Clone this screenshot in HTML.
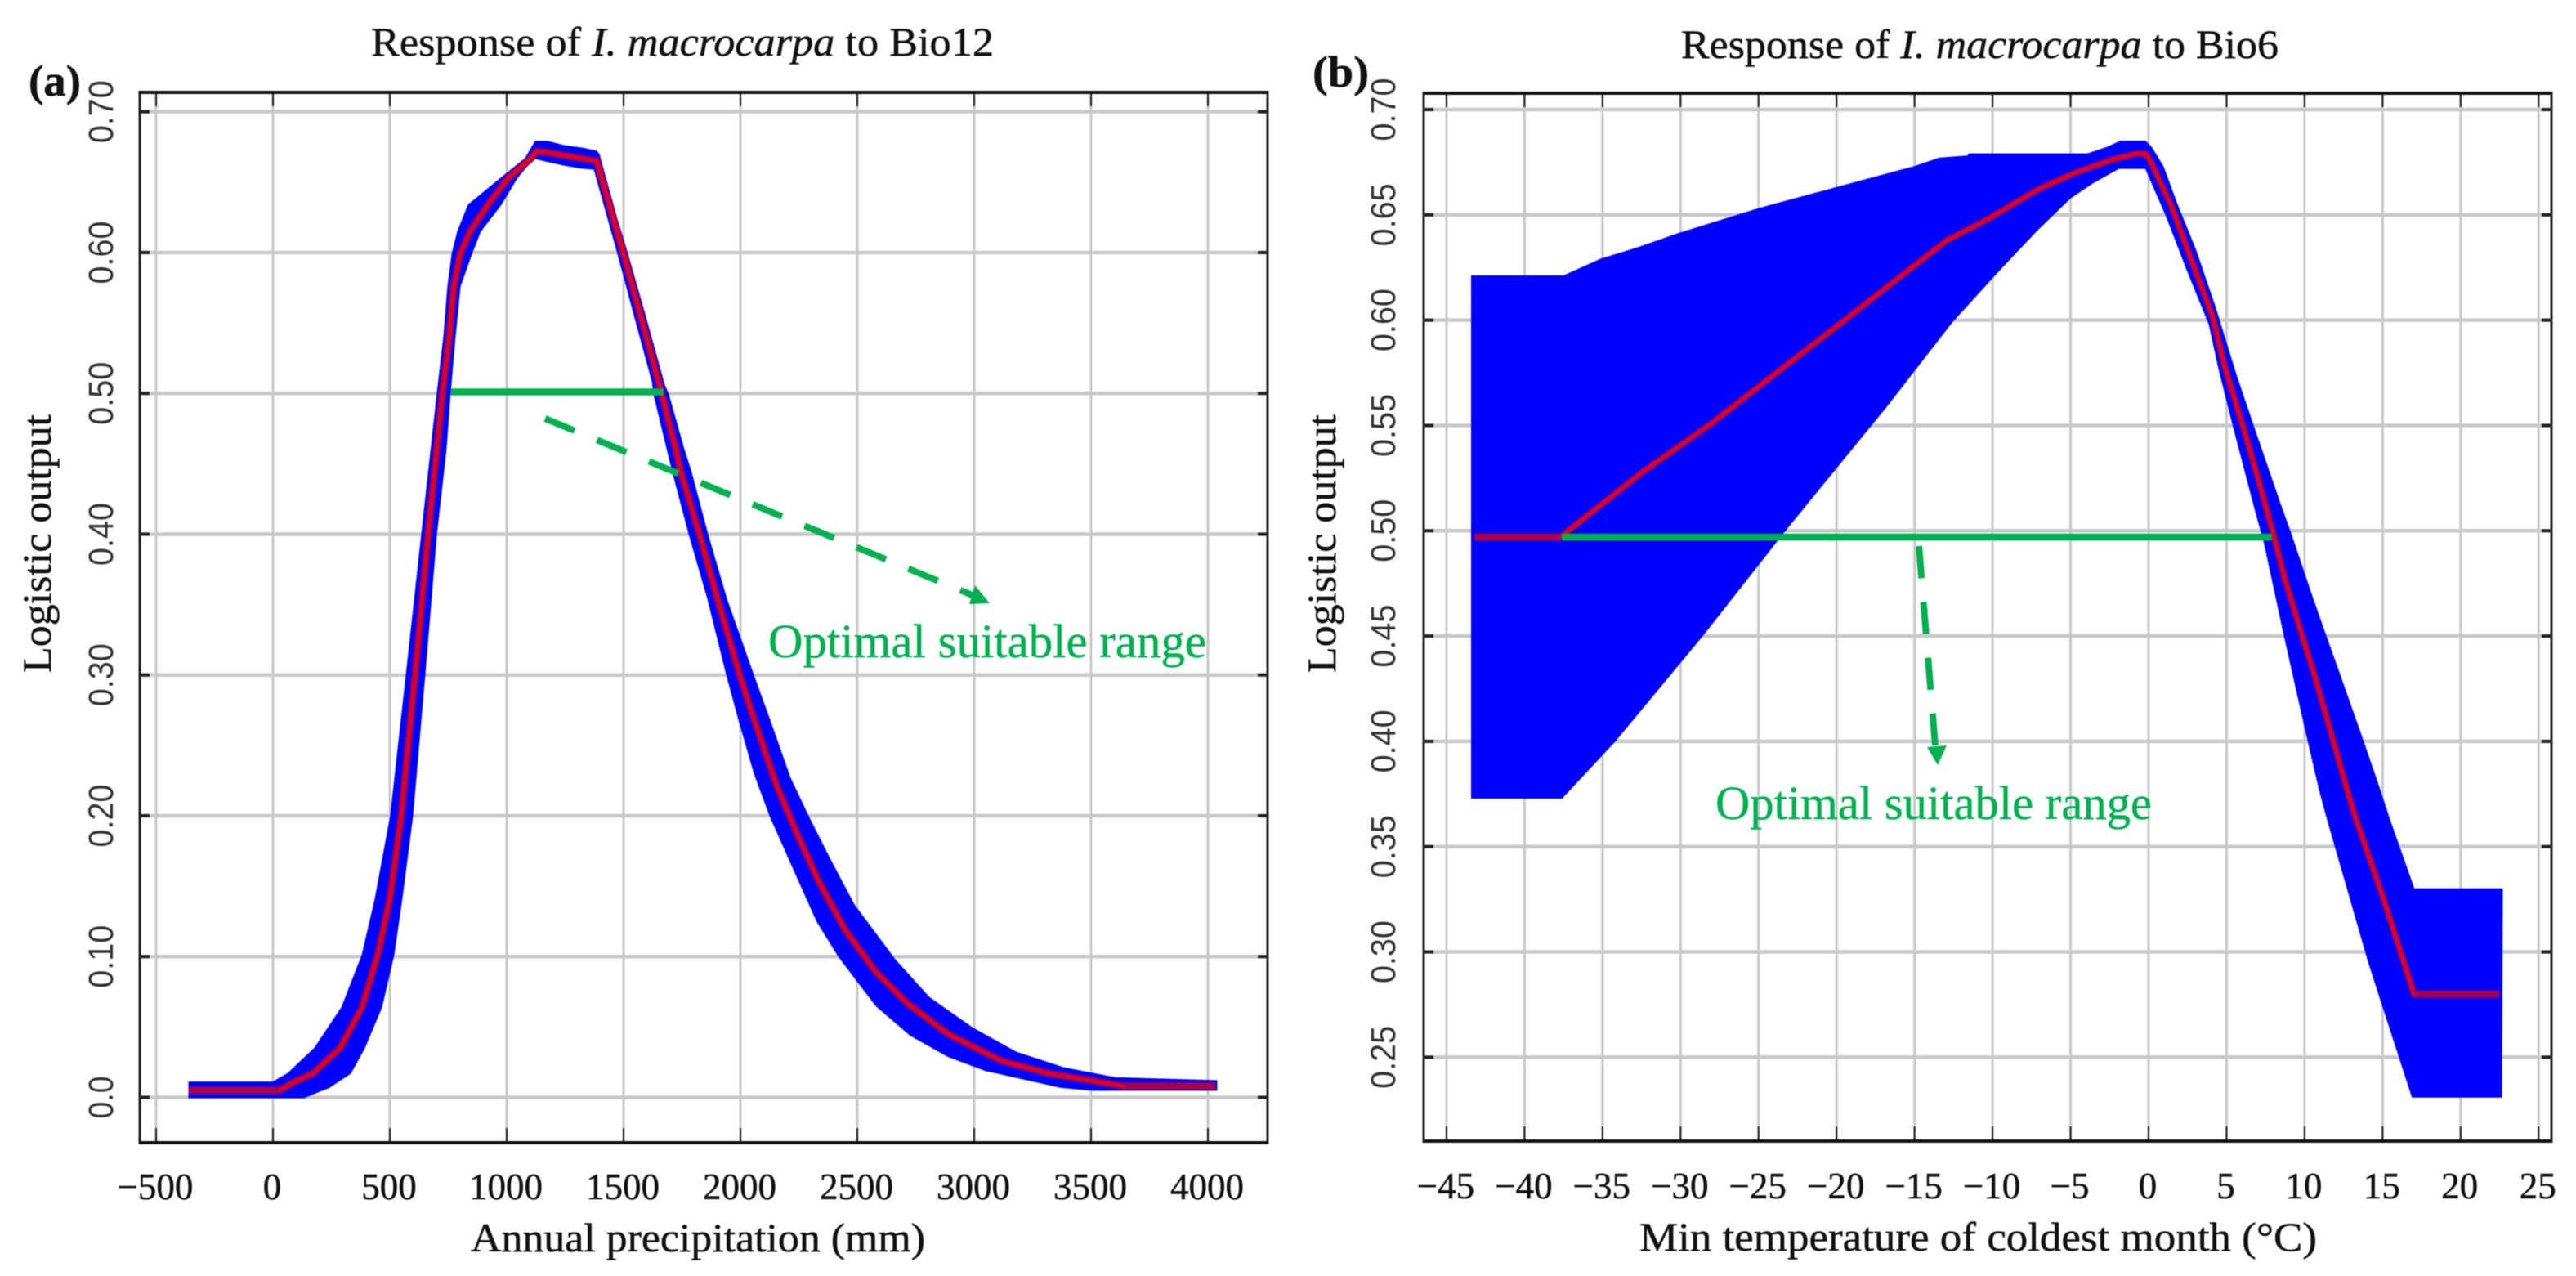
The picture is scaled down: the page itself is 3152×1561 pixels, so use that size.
<!DOCTYPE html>
<html lang="en">
<head>
<meta charset="utf-8">
<title>Response curves of I. macrocarpa</title>
<style>
html,body{margin:0;padding:0;background:#fff;}
svg{display:block;filter:blur(0.6px);}
text{font-family:"Liberation Serif",serif;fill:#111;stroke:#111;stroke-width:0.5px;}
.sans{font-family:"Liberation Sans",sans-serif;fill:#333;stroke:none;}
.green{fill:#00B050;stroke:#00B050;}
</style>
</head>
<body>
<svg id="figure" xmlns="http://www.w3.org/2000/svg" width="3152" height="1561" viewBox="0 0 3152 1561">
  <rect x="0" y="0" width="3152" height="1561" fill="#fff"/>
  <g id="panel-a"></g>
  <g id="panel-b"></g>

  <text x="35" y="117" font-size="54" font-weight="bold" textLength="64" lengthAdjust="spacingAndGlyphs">(a)</text>
  <text x="1606" y="106" font-size="54" font-weight="bold" textLength="69" lengthAdjust="spacingAndGlyphs">(b)</text>

  <text x="454" y="68" font-size="50" textLength="762" lengthAdjust="spacingAndGlyphs">Response of <tspan font-style="italic">I. macrocarpa</tspan> to Bio12</text>
  <text x="2057" y="71" font-size="50" textLength="731" lengthAdjust="spacingAndGlyphs">Response of <tspan font-style="italic">I. macrocarpa</tspan> to Bio6</text>

  <text x="576" y="1531" font-size="50" textLength="556" lengthAdjust="spacingAndGlyphs">Annual precipitation (mm)</text>
  <text x="2006" y="1530" font-size="50" textLength="829" lengthAdjust="spacingAndGlyphs">Min temperature of coldest month (°C)</text>

  <text transform="translate(62 823) rotate(-90)" font-size="50" textLength="316" lengthAdjust="spacingAndGlyphs">Logistic output</text>
  <text transform="translate(1634 823) rotate(-90)" font-size="50" textLength="316" lengthAdjust="spacingAndGlyphs">Logistic output</text>

  <g>
    <line x1="667" y1="512" x2="1192" y2="729" stroke="#00B050" stroke-width="8" stroke-dasharray="39 29.7"/>
    <polygon points="1193,716 1211,738 1186,739" fill="#00B050"/>
    <text class="green" x="940" y="804" font-size="58" textLength="536" lengthAdjust="spacingAndGlyphs">Optimal suitable range</text>
  </g>
  <g>
    <line x1="2348" y1="668" x2="2369" y2="925" stroke="#00B050" stroke-width="8" stroke-dasharray="39.5 29"/>
    <polygon points="2358,914 2382,912 2371,936" fill="#00B050"/>
    <text class="green" x="2099" y="1002" font-size="58" textLength="534" lengthAdjust="spacingAndGlyphs">Optimal suitable range</text>
  </g>
</svg>

<script>
// Panel (a) tick values
const aXTicks = [-500, 0, 500, 1000, 1500, 2000, 2500, 3000, 3500, 4000];
const aYTicks = [0, 0.1, 0.2, 0.3, 0.4, 0.5, 0.6, 0.7];
const aYLabels = ['0.0', '0.10', '0.20', '0.30', '0.40', '0.50', '0.60', '0.70'];

// Panel (a) mean response
const aMeanX = [-360, 28, 91, 171, 287, 381, 448, 500, 549, 608, 664, 726, 755, 773, 801, 843, 920, 1007, 1105, 1129, 1175, 1245, 1315, 1385, 1497, 1570, 1654, 1724, 1745, 1825, 1902, 1997, 2059, 2154, 2248, 2339, 2448, 2580, 2713, 2888, 3115, 3318, 3640, 4032];
const aMeanY = [0.005, 0.005, 0.011, 0.017, 0.035, 0.064, 0.101, 0.141, 0.2, 0.3, 0.4, 0.501, 0.541, 0.576, 0.599, 0.615, 0.634, 0.653, 0.667, 0.672, 0.671, 0.669, 0.667, 0.665, 0.601, 0.557, 0.506, 0.46, 0.444, 0.4, 0.354, 0.3, 0.268, 0.222, 0.185, 0.152, 0.119, 0.089, 0.067, 0.045, 0.026, 0.017, 0.008, 0.008];

// Panel (a) upper edge of the spread
const aUpperX = [-360, 0, 63, 178, 294, 381, 437, 503, 570, 636, 703, 731, 748, 766, 790, 836, 976, 1080, 1122, 1175, 1245, 1332, 1385, 1395, 1472, 1514, 1590, 1675, 1692, 1759, 1790, 1860, 1941, 2056, 2126, 2213, 2290, 2381, 2486, 2661, 2808, 2997, 3182, 3385, 3605, 4038];
const aUpperY = [0.011, 0.011, 0.017, 0.035, 0.064, 0.101, 0.141, 0.2, 0.3, 0.4, 0.501, 0.541, 0.576, 0.599, 0.615, 0.634, 0.653, 0.667, 0.679, 0.679, 0.676, 0.674, 0.672, 0.67, 0.624, 0.601, 0.557, 0.506, 0.4995, 0.46, 0.444, 0.4, 0.354, 0.3, 0.268, 0.227, 0.2, 0.17, 0.137, 0.098, 0.071, 0.049, 0.032, 0.021, 0.014, 0.012];

// Panel (a) lower edge of the spread
const aLowerX = [-360, 133, 241, 332, 392, 465, 517, 552, 598, 650, 700, 741, 759, 780, 801, 850, 888, 976, 1045, 1115, 1164, 1245, 1315, 1374, 1472, 1543, 1623, 1629, 1710, 1780, 1860, 1941, 1993, 2059, 2126, 2206, 2327, 2420, 2580, 2727, 2888, 3049, 3371, 3503, 4038];
const aLowerY = [-0.0003, -0.0003, 0.007, 0.017, 0.035, 0.064, 0.101, 0.141, 0.2, 0.3, 0.4, 0.46, 0.501, 0.541, 0.576, 0.599, 0.615, 0.634, 0.653, 0.667, 0.665, 0.662, 0.66, 0.659, 0.601, 0.557, 0.508, 0.4995, 0.444, 0.4, 0.354, 0.3, 0.268, 0.23, 0.2, 0.17, 0.125, 0.1, 0.065, 0.044, 0.029, 0.019, 0.007, 0.005, 0.005];

// Panel (a) optimal range
const aRangeX = [762, 1671];
const aRangeY = [0.501, 0.501];

// Panel (b) tick values
const bXTicks = [-45, -40, -35, -30, -25, -20, -15, -10, -5, 0, 5, 10, 15, 20, 25];
const bYTicks = [0.25, 0.3, 0.35, 0.4, 0.45, 0.5, 0.55, 0.6, 0.65, 0.7];
const bYLabels = ['0.25', '0.30', '0.35', '0.40', '0.45', '0.50', '0.55', '0.60', '0.65', '0.70'];

// Panel (b) mean response
const bMeanX = [-43.2, -37.7, -32.6, -28.2, -26.8, -23.5, -20, -16.9, -12.9, -10.3, -7.1, -4.7, -2.4, -0.84, -0.2, 0.16, 1.47, 2.83, 4.09, 4.92, 6.08, 6.97, 7.91, 8.7, 9.85, 10.53, 11.58, 12.73, 13.25, 15.03, 17.02, 22.47];
const bMeanY = [0.497, 0.497, 0.527, 0.55, 0.558, 0.577, 0.597, 0.615, 0.638, 0.648, 0.662, 0.67, 0.676, 0.679, 0.679, 0.675, 0.654, 0.627, 0.602, 0.577, 0.549, 0.526, 0.501, 0.478, 0.45, 0.434, 0.407, 0.377, 0.364, 0.326, 0.28, 0.28];

// Panel (b) upper edge of the spread
const bUpperX = [-43.4, -37.5, -35.1, -32.9, -30.2, -25, -20, -15, -13.4, -11.6, -11.5, -3.9, -2.7, -1.8, -0.2, 0.2, 0.94, 1.78, 3.04, 4.24, 5.66, 6.76, 8.43, 9.06, 10.38, 11.37, 12.15, 13.67, 14.83, 15.4, 17.02, 22.68];
const bUpperY = [0.621, 0.621, 0.629, 0.634, 0.641, 0.653, 0.663, 0.673, 0.677, 0.678, 0.679, 0.679, 0.682, 0.685, 0.685, 0.682, 0.673, 0.656, 0.633, 0.607, 0.573, 0.549, 0.513, 0.5, 0.471, 0.45, 0.434, 0.402, 0.377, 0.364, 0.33, 0.33];

// Panel (b) lower edge of the spread
const bLowerX = [-43.4, -37.6, -34.2, -28.6, -23.3, -17.9, -16.9, -12.6, -9.4, -7.1, -5, -3.6, -1.9, -0.2, 1.1, 2.51, 3.88, 4.5, 5.45, 6.86, 7.39, 8.7, 10.16, 10.95, 11.42, 14.1, 16.9, 22.63];
const bLowerY = [0.373, 0.373, 0.4, 0.45, 0.5, 0.549, 0.558, 0.599, 0.625, 0.643, 0.658, 0.665, 0.672, 0.672, 0.65, 0.623, 0.598, 0.577, 0.549, 0.509, 0.495, 0.45, 0.402, 0.377, 0.364, 0.295, 0.231, 0.231];

// Panel (b) optimal range
const bRangeX = [-37.6, 7.9];
const bRangeY = [0.497, 0.497];

const SVGNS = 'http://www.w3.org/2000/svg';

function make(parent, tag, attrs) {
  const node = document.createElementNS(SVGNS, tag);
  for (const key in attrs) node.setAttribute(key, attrs[key]);
  parent.appendChild(node);
  return node;
}

function tickLabel(v) {
  return (v < 0 ? '\u2212' + Math.abs(v) : String(v));
}

function pointString(xs, ys, sx, sy) {
  return xs.map(function (v, i) { return sx(v).toFixed(1) + ',' + sy(ys[i]).toFixed(1); }).join(' ');
}

function drawPanel(root, frame, sx, sy, series) {
  const left = frame.left, right = frame.right, top = frame.top, bottom = frame.bottom;

  series.yTicks.forEach(function (v) {
    const el = make(root, 'line', {x1: left, x2: right, y1: sy(v), y2: sy(v), stroke: '#c8c8c8', 'stroke-width': 4.5});
    
    
  });
  series.xTicks.forEach(function (v) {
    const el = make(root, 'line', {x1: sx(v), x2: sx(v), y1: top, y2: bottom, stroke: '#c8c8c8', 'stroke-width': 3});
    
    
  });

  const outline = series.upperX.map(function (v, i) { return sx(v).toFixed(1) + ',' + sy(series.upperY[i]).toFixed(1); })
    .concat(series.lowerX.map(function (v, i) { return sx(v).toFixed(1) + ',' + sy(series.lowerY[i]).toFixed(1); }).reverse())
    .join(' ');
  const band = make(root, 'polygon', {points: outline, fill: '#0000ff', stroke: '#0000ff', 'stroke-width': 1});
  
  

  const halo = make(root, 'polyline', {points: pointString(series.meanX, series.meanY, sx, sy), fill: 'none', stroke: '#8c0068', 'stroke-width': frame.halo, 'stroke-linejoin': 'round'});
  
  

  const mean = make(root, 'polyline', {points: pointString(series.meanX, series.meanY, sx, sy), fill: 'none', stroke: '#dc0028', 'stroke-width': 5, 'stroke-linejoin': 'round'});
  
  

  const n = series.meanX.length;
  const flatLeft = make(root, 'polyline', {points: pointString(series.meanX.slice(0, 2), series.meanY.slice(0, 2), sx, sy), fill: 'none', stroke: '#a4004f', 'stroke-width': 9});
  
  

  const flatRight = make(root, 'polyline', {points: pointString(series.meanX.slice(n - 2), series.meanY.slice(n - 2), sx, sy), fill: 'none', stroke: '#a4004f', 'stroke-width': 9});
  
  

  const range = make(root, 'polyline', {points: pointString(series.rangeX, series.rangeY, sx, sy), fill: 'none', stroke: '#00B050', 'stroke-width': 8.5});
  
  

  series.xTicks.forEach(function (v) {
    const bottomTick = make(root, 'line', {x1: sx(v), x2: sx(v), y1: bottom - 18, y2: bottom, stroke: '#222', 'stroke-width': 2});
    
    

    const topTick = make(root, 'line', {x1: sx(v), x2: sx(v), y1: top, y2: top + 17, stroke: '#222', 'stroke-width': 2});
    
    

    const label = make(root, 'text', {x: sx(v) - 1, y: frame.xLabelY, 'font-size': 45, 'text-anchor': 'middle'});
    label.textContent = tickLabel(v);
    
    
  });

  series.yTicks.forEach(function (v, i) {
    const leftTick = make(root, 'line', {x1: left, x2: left + 12, y1: sy(v), y2: sy(v), stroke: '#222', 'stroke-width': 4});
    
    

    const rightTick = make(root, 'line', {x1: right - 12, x2: right, y1: sy(v), y2: sy(v), stroke: '#222', 'stroke-width': 4});
    
    

    const text = series.yLabels[i];
    const label = make(root, 'text', {
      class: 'sans',
      'font-size': 43,
      'text-anchor': 'middle',
      textLength: text.length === 4 ? 77 : 52,
      lengthAdjust: 'spacingAndGlyphs',
      transform: 'translate(' + frame.yLabelX + ' ' + sy(v) + ') rotate(-90)'
    });
    label.textContent = text;
    
    
  });

  const box = make(root, 'g', {});
  
  

  const lineLeft = make(box, 'line', {x1: left, x2: left, y1: top - 2, y2: bottom + 2, stroke: '#222', 'stroke-width': 3});
  
  

  const lineRight = make(box, 'line', {x1: right, x2: right, y1: top - 2, y2: bottom + 2, stroke: '#222', 'stroke-width': 3});
  
  

  const lineTop = make(box, 'line', {x1: left - 1, x2: right + 1, y1: top, y2: top, stroke: '#111', 'stroke-width': 4});
  
  

  const lineBottom = make(box, 'line', {x1: left - 1, x2: right + 1, y1: bottom, y2: bottom, stroke: '#111', 'stroke-width': 4});
  
  
}

// Axis functions: data value to pixel position
function axA_x(v) { return 334 + 0.286 * v; }
function axA_y(v) { return 1342.5 - 1722.6 * v; }
function axB_x(v) { return 2629 + 19.09 * v; }
function axB_y(v) { return 134 + (0.7 - v) * 2576.4; }

drawPanel(document.getElementById('panel-a'),
  {left: 171, right: 1551, top: 113, bottom: 1398, xLabelY: 1467, yLabelX: 138, halo: 9},
  axA_x, axA_y,
  {xTicks: aXTicks, yTicks: aYTicks, yLabels: aYLabels, meanX: aMeanX, meanY: aMeanY,
   upperX: aUpperX, upperY: aUpperY, lowerX: aLowerX, lowerY: aLowerY, rangeX: aRangeX, rangeY: aRangeY});

drawPanel(document.getElementById('panel-b'),
  {left: 1742, right: 3122, top: 114, bottom: 1396, xLabelY: 1466, yLabelX: 1707, halo: 8},
  axB_x, axB_y,
  {xTicks: bXTicks, yTicks: bYTicks, yLabels: bYLabels, meanX: bMeanX, meanY: bMeanY,
   upperX: bUpperX, upperY: bUpperY, lowerX: bLowerX, lowerY: bLowerY, rangeX: bRangeX, rangeY: bRangeY});
</script>
</body>
</html>
